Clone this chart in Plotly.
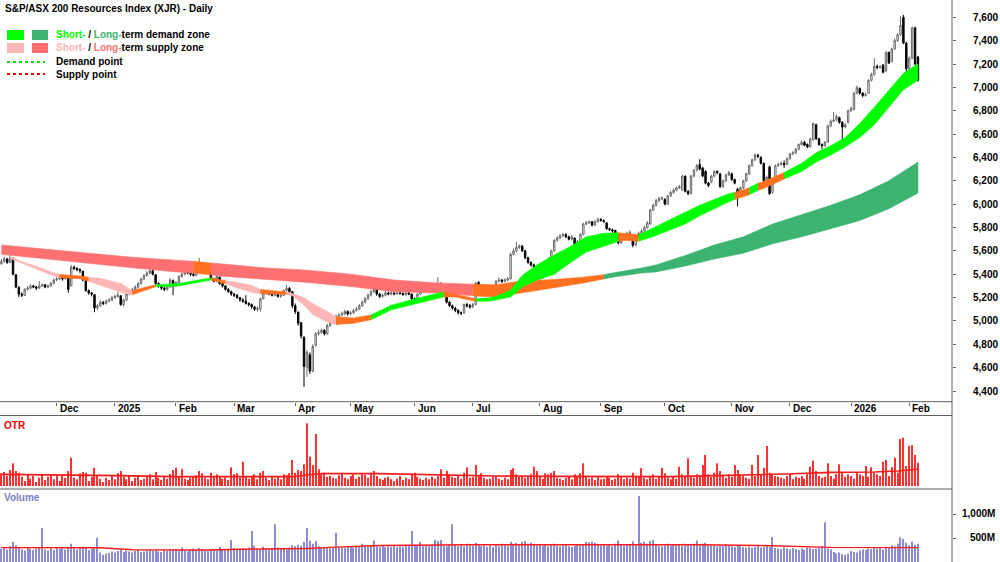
import plotly.graph_objects as go
import pandas as pd

# ---------------- data ----------------
title_text = "S&amp;P/ASX 200 Resources Index (XJR) - Daily"
start_date, end_date = "2024-11-05", "2026-02-05"
asx_holidays = ["2024-12-25", "2024-12-26", "2025-01-01", "2025-01-27", "2025-04-18",
                "2025-04-21", "2025-04-25", "2025-06-09", "2025-12-25", "2025-12-26",
                "2026-01-01", "2026-01-26"]
month_labels = ["Dec", "2025", "Feb", "Mar", "Apr", "May", "Jun", "Jul", "Aug", "Sep",
                "Oct", "Nov", "Dec", "2026", "Feb"]
price_ticks = [4400, 4600, 4800, 5000, 5200, 5400, 5600, 5800, 6000, 6200, 6400,
               6600, 6800, 7000, 7200, 7400, 7600]
volume_ticks = [500, 1000]
volume_tick_labels = ["500M", "1,000M"]

open_ = [
    5490, 5510, 5530, 5500, 5535, 5395, 5285, 5230, 5220, 5270,
    5280, 5300, 5290, 5280, 5300, 5310, 5290, 5300, 5320, 5350,
    5360, 5370, 5360, 5370, 5300, 5460, 5450, 5440, 5425, 5345,
    5260, 5240, 5225, 5110, 5130, 5160, 5150, 5170, 5180, 5200,
    5210, 5215, 5140, 5180, 5230, 5250, 5270, 5290, 5320, 5360,
    5390, 5410, 5430, 5395, 5320, 5300, 5280, 5270, 5290, 5345,
    5300, 5330, 5380, 5400, 5420, 5410, 5400, 5390, 5450, 5490,
    5470, 5440, 5420, 5360, 5340, 5375, 5320, 5300, 5270, 5250,
    5230, 5220, 5200, 5180, 5170, 5150, 5140, 5120, 5100, 5100,
    5190, 5240, 5245, 5230, 5220, 5230, 5210, 5220, 5260, 5280,
    5250, 5130, 5075, 4985, 4860, 4600, 4710, 4570, 4790, 4890,
    4900, 4920, 4890, 4960, 4990, 5010, 5040, 5050, 5060, 5080,
    5060, 5070, 5090, 5100, 5130, 5160, 5190, 5220, 5250, 5270,
    5230, 5210, 5220, 5240, 5230, 5240, 5230, 5240, 5235, 5225,
    5240, 5230, 5190, 5160, 5230, 5250, 5260, 5270, 5290, 5300,
    5310, 5320, 5300, 5240, 5160, 5130, 5110, 5090, 5070, 5070,
    5140, 5130, 5120, 5140, 5330, 5300, 5260, 5240, 5230, 5240,
    5300, 5340, 5350, 5340, 5350, 5360, 5570, 5600, 5630, 5640,
    5600, 5540, 5500, 5480, 5420, 5360, 5370, 5390, 5500, 5530,
    5600, 5690, 5710, 5730, 5740, 5720, 5700, 5710, 5650, 5680,
    5740, 5830, 5840, 5850, 5820, 5850, 5870, 5860, 5840, 5790,
    5780, 5775, 5740, 5670, 5700, 5730, 5750, 5730, 5650, 5720,
    5750, 5770, 5800, 5830, 5950, 5990, 6030, 6045, 6040, 6000,
    6070, 6100, 6120, 6140, 6120, 6240, 6110, 6090, 6240, 6290,
    6340, 6310, 6280, 6180, 6190, 6240, 6280, 6260, 6150, 6200,
    6250, 6260, 6210, 6130, 6080, 6140, 6200, 6260, 6330, 6380,
    6420, 6400, 6350, 6200, 6320, 6100, 6190, 6330, 6340, 6350,
    6340, 6390, 6430, 6440, 6470, 6510, 6530, 6510, 6490, 6550,
    6680, 6560, 6510, 6500, 6530, 6670, 6710, 6720, 6740, 6700,
    6660, 6700, 6800, 6810, 6950, 6990, 6950, 6930, 6950, 7060,
    7110, 7180, 7170, 7190, 7140, 7300, 7220, 7330, 7400, 7450,
    7600, 7380, 7160, 7250, 7510, 7260,
]
high = [
    5530, 5550, 5540, 5625, 5545, 5400, 5300, 5245, 5280, 5300,
    5315, 5310, 5300, 5340, 5320, 5315, 5310, 5335, 5365, 5375,
    5390, 5380, 5390, 5375, 5480, 5475, 5460, 5450, 5430, 5350,
    5270, 5250, 5230, 5145, 5175, 5170, 5185, 5195, 5215, 5225,
    5250, 5220, 5190, 5240, 5265, 5285, 5305, 5335, 5370, 5400,
    5425, 5455, 5440, 5400, 5330, 5310, 5295, 5300, 5365, 5355,
    5340, 5390, 5415, 5430, 5430, 5420, 5410, 5460, 5540, 5500,
    5480, 5450, 5425, 5370, 5390, 5380, 5325, 5305, 5280, 5260,
    5240, 5230, 5205, 5195, 5220, 5160, 5150, 5130, 5125, 5200,
    5250, 5255, 5255, 5240, 5245, 5240, 5235, 5270, 5308, 5290,
    5255, 5150, 5080, 4990, 4870, 4750, 4730, 4800, 4905, 4925,
    4935, 4930, 4975, 5005, 5025, 5055, 5065, 5080, 5095, 5090,
    5085, 5105, 5120, 5145, 5175, 5205, 5235, 5265, 5285, 5275,
    5240, 5235, 5255, 5250, 5255, 5250, 5255, 5250, 5245, 5250,
    5250, 5235, 5200, 5240, 5265, 5275, 5285, 5300, 5315, 5325,
    5375, 5330, 5310, 5245, 5170, 5140, 5120, 5100, 5080, 5150,
    5155, 5145, 5155, 5335, 5340, 5310, 5270, 5250, 5255, 5310,
    5350, 5370, 5360, 5365, 5375, 5585, 5620, 5675, 5655, 5650,
    5610, 5550, 5510, 5490, 5430, 5385, 5400, 5510, 5545, 5610,
    5700, 5725, 5745, 5755, 5750, 5730, 5735, 5715, 5695, 5750,
    5840, 5855, 5860, 5855, 5865, 5885, 5880, 5870, 5845, 5800,
    5790, 5780, 5745, 5710, 5740, 5765, 5775, 5740, 5730, 5765,
    5785, 5815, 5855, 5960, 6005, 6045, 6065, 6065, 6050, 6080,
    6115, 6135, 6150, 6165, 6250, 6245, 6120, 6250, 6300, 6345,
    6385, 6320, 6290, 6190, 6250, 6290, 6290, 6265, 6210, 6260,
    6285, 6270, 6220, 6140, 6150, 6210, 6270, 6340, 6390, 6435,
    6430, 6410, 6355, 6245, 6330, 6190, 6340, 6355, 6365, 6375,
    6400, 6440, 6455, 6480, 6520, 6545, 6540, 6520, 6570, 6700,
    6690, 6565, 6520, 6540, 6680, 6725, 6790, 6765, 6750, 6710,
    6695, 6810, 6835, 6960, 7015, 7000, 6960, 6955, 7070, 7125,
    7250, 7195, 7190, 7200, 7310, 7305, 7340, 7420, 7465, 7610,
    7620, 7390, 7265, 7520, 7520, 7270,
]
low = [
    5480, 5500, 5490, 5495, 5390, 5280, 5205, 5205, 5215, 5260,
    5270, 5280, 5265, 5275, 5290, 5280, 5280, 5295, 5315, 5340,
    5350, 5345, 5355, 5240, 5295, 5435, 5425, 5410, 5340, 5250,
    5225, 5210, 5075, 5095, 5120, 5135, 5140, 5160, 5170, 5190,
    5200, 5130, 5125, 5170, 5220, 5240, 5260, 5280, 5310, 5350,
    5380, 5400, 5390, 5310, 5285, 5265, 5255, 5260, 5285, 5220,
    5290, 5320, 5370, 5390, 5400, 5385, 5380, 5385, 5440, 5455,
    5430, 5405, 5350, 5330, 5330, 5310, 5285, 5260, 5240, 5215,
    5205, 5190, 5165, 5155, 5140, 5125, 5105, 5085, 5080, 5080,
    5185, 5225, 5220, 5210, 5210, 5200, 5200, 5215, 5255, 5240,
    5110, 5060, 4960, 4850, 4435, 4520, 4545, 4560, 4780, 4875,
    4890, 4875, 4880, 4950, 4980, 5000, 5030, 5040, 5050, 5045,
    5050, 5060, 5080, 5095, 5120, 5150, 5180, 5210, 5240, 5215,
    5195, 5200, 5210, 5220, 5220, 5220, 5225, 5225, 5215, 5215,
    5220, 5180, 5150, 5155, 5225, 5240, 5250, 5260, 5280, 5290,
    5300, 5290, 5260, 5150, 5120, 5095, 5075, 5055, 5050, 5060,
    5115, 5105, 5110, 5135, 5295, 5250, 5225, 5215, 5220, 5235,
    5295, 5330, 5325, 5330, 5340, 5355, 5560, 5590, 5615, 5590,
    5530, 5490, 5465, 5445, 5345, 5345, 5360, 5385, 5490, 5525,
    5595, 5680, 5700, 5720, 5710, 5690, 5690, 5640, 5640, 5675,
    5735, 5820, 5830, 5810, 5815, 5840, 5850, 5840, 5780, 5770,
    5755, 5730, 5655, 5660, 5690, 5720, 5740, 5630, 5640, 5710,
    5740, 5760, 5790, 5825, 5940, 5980, 6020, 6035, 5990, 5995,
    6060, 6090, 6110, 6130, 6115, 6100, 6075, 6085, 6230, 6280,
    6290, 6230, 6170, 6145, 6180, 6230, 6255, 6140, 6140, 6190,
    6240, 6200, 6170, 5980, 6070, 6130, 6190, 6250, 6320, 6370,
    6395, 6340, 6190, 6190, 6080, 6090, 6180, 6320, 6330, 6310,
    6335, 6380, 6420, 6430, 6460, 6500, 6495, 6480, 6485, 6545,
    6550, 6500, 6470, 6490, 6525, 6660, 6700, 6710, 6690, 6550,
    6650, 6690, 6790, 6805, 6940, 6940, 6915, 6920, 6945, 7050,
    7100, 7155, 7160, 7120, 7135, 7200, 7215, 7320, 7390, 7440,
    7370, 7090, 7150, 7240, 7190, 7050,
]
close = [
    5510, 5530, 5500, 5540, 5400, 5290, 5230, 5220, 5270, 5280,
    5300, 5290, 5280, 5300, 5310, 5290, 5300, 5320, 5350, 5360,
    5370, 5360, 5375, 5270, 5460, 5450, 5440, 5430, 5350, 5260,
    5240, 5230, 5110, 5130, 5160, 5150, 5170, 5180, 5200, 5210,
    5220, 5140, 5180, 5230, 5250, 5270, 5290, 5320, 5360, 5390,
    5410, 5430, 5400, 5320, 5300, 5280, 5270, 5290, 5350, 5300,
    5330, 5380, 5400, 5420, 5410, 5400, 5390, 5450, 5490, 5470,
    5440, 5420, 5360, 5340, 5380, 5320, 5300, 5270, 5250, 5230,
    5220, 5200, 5180, 5170, 5150, 5140, 5120, 5100, 5110, 5190,
    5240, 5245, 5230, 5220, 5230, 5210, 5220, 5260, 5280, 5250,
    5130, 5080, 4980, 4870, 4610, 4730, 4570, 4780, 4890, 4900,
    4920, 4890, 4960, 4990, 5010, 5040, 5050, 5060, 5080, 5060,
    5070, 5090, 5100, 5130, 5160, 5190, 5220, 5250, 5270, 5230,
    5210, 5220, 5240, 5230, 5240, 5230, 5240, 5235, 5225, 5240,
    5230, 5190, 5160, 5230, 5250, 5260, 5270, 5290, 5300, 5310,
    5320, 5300, 5270, 5160, 5130, 5110, 5090, 5070, 5065, 5140,
    5130, 5120, 5140, 5320, 5310, 5260, 5240, 5230, 5240, 5300,
    5340, 5350, 5340, 5350, 5360, 5570, 5600, 5630, 5640, 5600,
    5540, 5500, 5480, 5460, 5360, 5370, 5390, 5500, 5530, 5600,
    5690, 5710, 5730, 5740, 5720, 5700, 5720, 5650, 5680, 5740,
    5830, 5840, 5850, 5820, 5850, 5870, 5860, 5850, 5790, 5780,
    5770, 5740, 5670, 5700, 5730, 5750, 5760, 5650, 5720, 5750,
    5770, 5800, 5840, 5950, 5990, 6030, 6050, 6055, 6000, 6070,
    6100, 6120, 6140, 6150, 6240, 6110, 6090, 6240, 6290, 6330,
    6300, 6240, 6180, 6160, 6240, 6280, 6270, 6150, 6200, 6250,
    6270, 6210, 6180, 6080, 6140, 6200, 6260, 6330, 6380, 6420,
    6410, 6350, 6200, 6230, 6090, 6180, 6330, 6340, 6350, 6340,
    6390, 6430, 6440, 6470, 6510, 6530, 6505, 6490, 6560, 6690,
    6560, 6510, 6500, 6530, 6670, 6710, 6720, 6750, 6700, 6660,
    6680, 6800, 6820, 6950, 7000, 6950, 6930, 6940, 7060, 7110,
    7180, 7170, 7175, 7130, 7300, 7210, 7330, 7400, 7450, 7530,
    7380, 7160, 7250, 7510, 7200, 7060,
]

otr = [
    38, 42, 30, 48, 68, 45, 40, 28, 15, 35, 22, 30, 12, 25, 33, 18, 28, 36, 20, 30,
    15, 32, 25, 45, 85, 25, 20, 38, 42, 40, 15, 28, 55, 30, 22, 12, 25, 18, 30, 20,
    38, 45, 28, 20, 30, 15, 25, 33, 18, 22, 28, 35, 20, 42, 25, 18, 30, 22, 36, 48,
    55, 28, 50, 22, 18, 25, 30, 32, 45, 38, 25, 20, 40, 28, 35, 30, 22, 26, 18, 56,
    35, 38, 25, 73, 30, 22, 28, 35, 20, 40, 45, 25, 18, 30, 22, 26, 20, 35, 32, 38,
    78, 40, 48, 45, 65, 188, 88, 63, 156, 50, 35, 40, 28, 30, 25, 22, 32, 40, 25, 20,
    30, 35, 22, 28, 38, 33, 25, 40, 45, 30, 22, 18, 25, 28, 20, 15, 22, 30, 18, 25,
    20, 35, 40, 28, 22, 18, 25, 20, 28, 22, 30, 50, 25, 45, 35, 28, 25, 30, 22, 40,
    56, 25, 28, 63, 30, 38, 25, 20, 22, 28, 30, 22, 18, 25, 20, 48, 53, 35, 28, 30,
    25, 30, 35, 58, 45, 30, 22, 38, 35, 40, 45, 25, 22, 18, 25, 30, 20, 35, 28, 38,
    68, 30, 22, 25, 18, 28, 20, 22, 30, 25, 18, 22, 35, 28, 20, 25, 22, 40, 30, 28,
    53, 25, 20, 30, 35, 22, 28, 55, 38, 25, 20, 30, 22, 58, 35, 30, 83, 28, 25, 35,
    30, 63, 93, 35, 28, 40, 68, 45, 30, 25, 35, 28, 63, 48, 35, 30, 25, 22, 63, 30,
    93, 35, 55, 120, 40, 35, 30, 28, 25, 22, 30, 35, 20, 28, 25, 30, 22, 35, 58, 76,
    45, 30, 25, 28, 68, 30, 22, 35, 65, 40, 28, 35, 30, 22, 40, 35, 30, 60, 28, 56,
    40, 35, 30, 73, 78, 30, 56, 85, 40, 141, 145, 60, 121, 123, 93, 70,
]
volume_m = [
    280, 310, 260, 330, 420, 350, 300, 260, 240, 290, 270, 250, 280, 300, 708, 260, 240, 280, 250, 300,
    270, 290, 260, 310, 380, 280, 260, 300, 320, 290, 250, 270, 310, 507, 200, 150, 170, 190, 220, 200,
    230, 260, 210, 240, 220, 200, 230, 250, 210, 220, 240, 260, 230, 250, 220, 210, 240, 230, 260, 250,
    270, 240, 300, 230, 220, 260, 280, 250, 290, 270, 240, 230, 260, 250, 240, 310, 260, 250, 270, 458,
    290, 270, 250, 280, 260, 300, 646, 340, 280, 260, 320, 270, 260, 290, 785, 300, 280, 270, 260, 300,
    350, 330, 360, 340, 420, 708, 450, 380, 440, 330, 300, 310, 290, 280, 300, 604, 320, 300, 290, 310,
    320, 300, 330, 310, 380, 330, 320, 340, 450, 330, 320, 340, 310, 330, 320, 340, 310, 330, 320, 350,
    340, 646, 360, 340, 420, 330, 350, 340, 360, 465, 440, 460, 340, 330, 350, 785, 360, 340, 350, 330,
    380, 350, 340, 400, 360, 330, 350, 320, 340, 310, 360, 330, 380, 350, 340, 420, 380, 400, 350, 420,
    430, 380, 400, 360, 350, 370, 340, 360, 330, 350, 380, 340, 330, 350, 360, 330, 310, 340, 370, 350,
    360, 423, 410, 420, 400, 380, 350, 370, 340, 360, 330, 380, 450, 360, 340, 370, 350, 430, 360, 1375,
    400, 420, 380, 440, 460, 360, 340, 330, 350, 380, 340, 360, 350, 370, 340, 380, 360, 350, 380, 450,
    360, 380, 400, 370, 350, 340, 330, 360, 350, 370, 340, 330, 310, 350, 330, 310, 300, 320, 290, 310,
    330, 300, 320, 340, 310, 521, 290, 280, 270, 300, 280, 260, 290, 270, 250, 280, 260, 300, 290, 270,
    280, 300, 330, 826, 280, 260, 210, 180, 200, 160, 150, 170, 230, 210, 200, 240, 260, 250, 280, 270,
    300, 280, 290, 260, 320, 300, 350, 330, 380, 514, 480, 400, 350, 420, 360, 380,
]

otr_ma_idx = [0, 20, 40, 60, 80, 100, 105, 110, 130, 150, 170, 190, 210, 230, 245, 262, 270, 285, 300, 308, 315]
otr_ma = [35, 34, 31, 28, 27, 28, 33, 37, 37, 33, 30, 29, 28, 28, 31, 33, 36, 41, 42, 45, 51]
vol_ma_idx = [0, 34, 45, 70, 90, 105, 115, 130, 160, 200, 240, 260, 275, 285, 315]
vol_ma = [300, 298, 255, 250, 272, 280, 310, 345, 360, 365, 360, 345, 330, 305, 300]

# short-term zone samples (trading-day index, upper, lower, state) S=supply D=demand T=transition
st_idx = [3, 8, 13, 17, 20, 24, 27, 30, 34, 38, 41, 45, 53, 61, 72, 77, 80, 86, 89, 98,
          100, 104, 107, 112, 115, 121, 127, 134, 140, 146, 152, 156, 163, 168, 172, 175, 179, 184, 190, 195,
          201, 207, 212, 214, 219, 221, 224, 230, 235, 240, 245, 250, 252, 257, 260, 262, 269, 275, 280, 285,
          290, 295, 300, 305, 310, 315]
st_top = [5550, 5500, 5460, 5420, 5398, 5392, 5385, 5375, 5365, 5340, 5320, 5260, 5310, 5320, 5370, 5345, 5335, 5305, 5270, 5248,
          5235, 5200, 5150, 5080, 5035, 5025, 5050, 5135, 5175, 5210, 5250, 5228, 5190, 5198, 5228, 5265, 5390, 5480, 5565, 5630,
          5720, 5750, 5755, 5750, 5738, 5760, 5796, 5870, 5930, 5990, 6040, 6090, 6100, 6140, 6180, 6195, 6270, 6350, 6440, 6500,
          6570, 6690, 6830, 6980, 7120, 7200]
st_bot = [5535, 5480, 5435, 5395, 5370, 5368, 5362, 5340, 5305, 5270, 5245, 5225, 5292, 5300, 5350, 5318, 5290, 5245, 5232, 5228,
          5215, 5135, 5055, 4990, 4970, 4980, 5010, 5095, 5135, 5170, 5205, 5205, 5168, 5170, 5190, 5205, 5290, 5350, 5400, 5490,
          5590, 5640, 5680, 5690, 5682, 5700, 5722, 5780, 5830, 5900, 5960, 6020, 6040, 6080, 6120, 6135, 6215, 6280, 6360, 6420,
          6490, 6570, 6680, 6830, 6980, 7060]
st_state = ["S", "S", "S", "S", "T", "T", "T", "S", "S", "S", "S", "T", "D", "D", "T", "S", "S", "S", "T", "S",
            "S", "S", "S", "S", "T", "T", "D", "D", "D", "D", "T", "T", "D", "D", "D", "D", "D", "D", "D", "D",
            "D", "D", "T", "T", "D", "D", "D", "D", "D", "D", "D", "D", "T", "D", "T", "T", "D", "D", "D", "D",
            "D", "D", "D", "D", "D", "D"]

# long-term zone samples
lt_idx = [0, 15, 30, 45, 60, 66, 72, 75, 90, 105, 120, 135, 150, 162, 170, 178, 190, 200, 207, 210,
          220, 225, 235, 245, 255, 265, 275, 285, 295, 305, 315]
lt_top = [5650, 5615, 5580, 5545, 5520, 5510, 5495, 5490, 5455, 5435, 5400, 5350, 5325, 5315, 5310, 5340, 5355, 5375, 5395, 5410,
          5453, 5480, 5560, 5650, 5720, 5830, 5910, 5990, 6080, 6200, 6360]
lt_bot = [5570, 5530, 5495, 5455, 5420, 5410, 5395, 5385, 5355, 5330, 5295, 5250, 5240, 5215, 5205, 5240, 5285, 5325, 5360, 5375,
          5410, 5420, 5470, 5530, 5580, 5660, 5720, 5790, 5860, 5960, 6095]
lt_state = ["S", "S", "S", "S", "S", "T", "S", "S", "S", "S", "S", "S", "S", "T", "T", "T", "T", "T", "D", "D",
            "D", "D", "D", "D", "D", "D", "D", "D", "D", "D", "D"]

# ---------------- styling ----------------
W, H, PLOT_W = 1000, 562, 952
MAIN_BOTTOM, OTR_TOP, VOL_TOP = 401.7, 415.5, 489.0
FONT = "Liberation Sans, Arial, sans-serif"
ST_COL = {"S": "#FFB6B6", "D": "#00FF00", "T": "#FF7020"}
LT_COL = {"S": "#FF7070", "D": "#3CB371", "T": "#FF7020"}
AX = "#606060"


def py(p):
    return 1 - p / H


def pxx(p):
    return p / PLOT_W


dates = [d for d in pd.bdate_range(start_date, end_date) if d.strftime("%Y-%m-%d") not in asx_holidays]
N = len(close)
dates = dates[:N]
x = list(range(N))
month_pos = [k for k in range(1, N) if dates[k].month != dates[k - 1].month]

fig = go.Figure()


def add_band(idx, top, bot, state, colors):
    k = 0
    n = len(idx)
    while k < n - 1:
        s = state[k]
        j = k
        while j + 1 < n - 1 and state[j + 1] == s:
            j += 1
        xs = idx[k:j + 2]
        yt = top[k:j + 2]
        yb = bot[k:j + 2]
        fig.add_trace(go.Scatter(x=xs + xs[::-1], y=yt + yb[::-1], fill="toself",
                                 fillcolor=colors[s], mode="lines",
                                 line=dict(width=0.6, color=colors[s]),
                                 hoverinfo="skip", showlegend=False, xaxis="x", yaxis="y"))
        k = j + 1


add_band(lt_idx, lt_top, lt_bot, lt_state, LT_COL)
add_band(st_idx, st_top, st_bot, st_state, ST_COL)

fig.add_trace(go.Candlestick(
    x=x, open=open_, high=high, low=low, close=close,
    increasing=dict(line=dict(color="#6A6A6A", width=1), fillcolor="white"),
    decreasing=dict(line=dict(color="black", width=1), fillcolor="black"),
    whiskerwidth=0, showlegend=False, xaxis="x", yaxis="y", hoverinfo="skip"))

fig.add_trace(go.Bar(x=x, y=otr, marker=dict(color="#FF3030", line=dict(width=0)), width=0.38,
                     showlegend=False, xaxis="x2", yaxis="y2", hoverinfo="skip"))
fig.add_trace(go.Scatter(x=otr_ma_idx, y=otr_ma, mode="lines", line=dict(color="#FF1A1A", width=1.6),
                         showlegend=False, xaxis="x2", yaxis="y2", hoverinfo="skip"))
fig.add_trace(go.Bar(x=x, y=volume_m, marker=dict(color="#8C8CD2", line=dict(width=0)), width=0.38,
                     showlegend=False, xaxis="x3", yaxis="y3", hoverinfo="skip"))
fig.add_trace(go.Scatter(x=vol_ma_idx, y=vol_ma, mode="lines", line=dict(color="#FF1A1A", width=1.4),
                         showlegend=False, xaxis="x3", yaxis="y3", hoverinfo="skip"))

xr = [-0.48, 326.7]
common_x = dict(range=xr, showgrid=False, zeroline=False, showline=False, domain=[0, 1], fixedrange=True)
fig.update_layout(
    width=W, height=H, margin=dict(l=0, r=W - PLOT_W, t=0, b=0),
    paper_bgcolor="white", plot_bgcolor="white", showlegend=False,
    xaxis=dict(**common_x, anchor="y", tickmode="array", tickvals=month_pos, ticks="outside",
               ticklen=3, tickcolor=AX, showticklabels=False, rangeslider=dict(visible=False)),
    yaxis=dict(domain=[py(MAIN_BOTTOM), 1], range=[4308.4, 7748.1], side="right",
               tickmode="array", tickvals=price_ticks, tickformat=",", ticks="outside", ticklen=3,
               tickcolor=AX, showgrid=False, zeroline=False, showline=False, ticklabelstandoff=15,
               tickfont=dict(family=FONT, size=10, color="black", weight="bold"), anchor="x"),
    xaxis2=dict(**common_x, anchor="y2", matches="x", showticklabels=False, ticks=""),
    yaxis2=dict(domain=[py(VOL_TOP), py(OTR_TOP)], range=[-9, 211.5], side="right",
                showticklabels=False, ticks="", showgrid=False, zeroline=False, anchor="x2"),
    xaxis3=dict(**common_x, anchor="y3", matches="x", showticklabels=False, ticks=""),
    yaxis3=dict(domain=[0, py(VOL_TOP)], range=[0, 1520.8], side="right", tickmode="array",
                tickvals=volume_ticks, ticks="outside", ticklen=3, tickcolor=AX,
                showticklabels=False, showgrid=False, zeroline=False, anchor="x3"),
)

shapes = []
for yy in [MAIN_BOTTOM, OTR_TOP, VOL_TOP]:
    shapes.append(dict(type="line", xref="paper", yref="paper", x0=0, x1=1, y0=py(yy), y1=py(yy),
                       line=dict(color=AX, width=1)))
shapes.append(dict(type="line", xref="paper", yref="paper", x0=1, x1=1, y0=0, y1=1,
                   line=dict(color=AX, width=1)))
# legend swatches
legend_rows = [(35, ST_COL["D"], LT_COL["D"]), (48, ST_COL["S"], LT_COL["S"])]
for yc, c1, c2 in legend_rows:
    shapes.append(dict(type="rect", xref="paper", yref="paper", x0=pxx(7), x1=pxx(24),
                       y0=py(yc + 5), y1=py(yc - 5), fillcolor=c1, line=dict(width=0)))
    shapes.append(dict(type="rect", xref="paper", yref="paper", x0=pxx(32), x1=pxx(48),
                       y0=py(yc + 5), y1=py(yc - 5), fillcolor=c2, line=dict(width=0)))
shapes.append(dict(type="line", xref="paper", yref="paper", x0=pxx(7), x1=pxx(45), y0=py(62), y1=py(62),
                   line=dict(color="#00DD00", width=2, dash="dot")))
shapes.append(dict(type="line", xref="paper", yref="paper", x0=pxx(7), x1=pxx(45), y0=py(74), y1=py(74),
                   line=dict(color="#FF0000", width=2, dash="dot")))
fig.update_layout(shapes=shapes)

ann = []


def text(xp, ypx, t, color="black", anchor="left", xref="paper"):
    ann.append(dict(x=xp, y=py(ypx), xref=xref, yref="paper", text=t, showarrow=False,
                    xanchor=anchor, yanchor="middle",
                    font=dict(family=FONT, size=10, color=color, weight="bold")))


text(pxx(3), 8.5, title_text)
text(pxx(54), 35, "<span style='color:%s'>Short-</span> / <span style='color:%s'>Long-</span>term demand zone"
     % (ST_COL["D"], LT_COL["D"]))
text(pxx(54), 48, "<span style='color:%s'>Short-</span> / <span style='color:%s'>Long-</span>term supply zone"
     % (ST_COL["S"], LT_COL["S"]))
text(pxx(54), 62, "Demand point")
text(pxx(54), 74, "Supply point")
text(pxx(2), 425, "OTR", color="#FF0000")
text(pxx(2), 497.5, "Volume", color="#8080C0")
for v, lab in zip(volume_ticks, volume_tick_labels):
    ypx = H - v / 1520.8 * (H - VOL_TOP)
    text(997 / PLOT_W, ypx, lab, anchor="right")
for pos, lab in zip(month_pos, month_labels):
    ann.append(dict(x=pos, y=py((MAIN_BOTTOM + OTR_TOP) / 2), xref="x", yref="paper", text=lab,
                    showarrow=False, xanchor="left", yanchor="middle", xshift=1,
                    font=dict(family=FONT, size=10, color="black", weight="bold")))
fig.update_layout(annotations=ann)

fig.write_html("out.html")
